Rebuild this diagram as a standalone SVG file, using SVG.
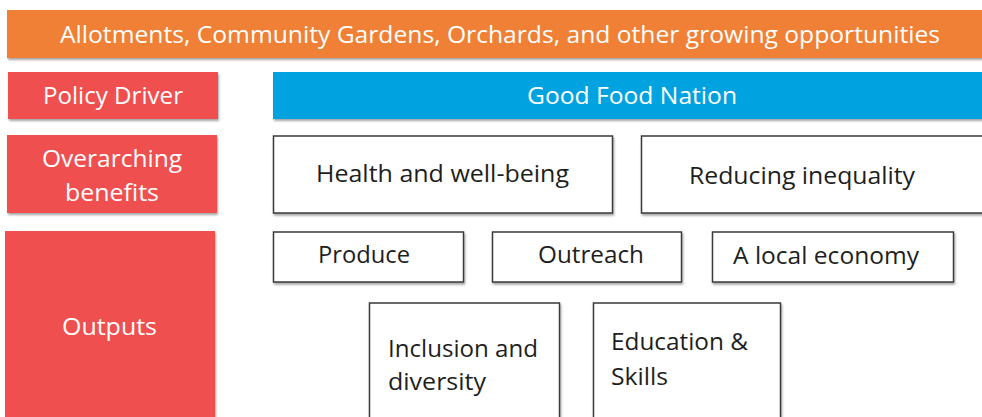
<svg xmlns="http://www.w3.org/2000/svg" width="982" height="417" viewBox="0 0 982 417">
<defs>
<filter id="sh" x="-5%" y="-10%" width="110%" height="130%">
<feDropShadow dx="1" dy="2" stdDeviation="1.2" flood-color="#000" flood-opacity="0.35"/>
</filter>
</defs>
<style>
text{font-family:"Open Sans","Liberation Sans",sans-serif;font-size:23px}
.w{fill:#ffffff}
.d{fill:#1e1e1e}
.or{fill:#F08034}
.rd{fill:#EF4F4F}
.bl{fill:#00A3E0}
.bx{fill:#ffffff;stroke:#3a3a3a;stroke-width:1.5}
</style>
<rect width="982" height="417" fill="#ffffff"/>
<g id="title"><rect class="or" x="7" y="10" width="985" height="48" filter="url(#sh)"/>
<text class="w" x="60" y="43" textLength="880" lengthAdjust="spacingAndGlyphs">Allotments, Community Gardens, Orchards, and other growing opportunities</text></g>
<g id="policy-driver"><rect class="rd" x="8" y="72" width="210" height="47" filter="url(#sh)"/>
<text class="w" x="43" y="104" textLength="140" lengthAdjust="spacingAndGlyphs">Policy Driver</text></g>
<g id="good-food-nation"><rect class="bl" x="273" y="72" width="720" height="47" filter="url(#sh)"/>
<text class="w" x="527" y="104" textLength="210" lengthAdjust="spacingAndGlyphs">Good Food Nation</text></g>
<g id="overarching"><rect class="rd" x="7" y="135" width="210" height="78" filter="url(#sh)"/>
<text class="w" x="42" y="167" textLength="140" lengthAdjust="spacingAndGlyphs">Overarching</text>
<text class="w" x="65" y="201" textLength="94" lengthAdjust="spacingAndGlyphs">benefits</text></g>
<g id="outputs"><rect class="rd" x="5" y="231" width="210" height="200" filter="url(#sh)"/>
<text class="w" x="62" y="335" textLength="95" lengthAdjust="spacingAndGlyphs">Outputs</text></g>
<g id="health"><rect class="bx" x="273.5" y="136" width="339" height="77" filter="url(#sh)"/>
<text class="d" x="316" y="182" textLength="253" lengthAdjust="spacingAndGlyphs">Health and well-being</text></g>
<g id="inequality"><rect class="bx" x="641.5" y="136" width="360" height="77" filter="url(#sh)"/>
<text class="d" x="689" y="184" textLength="226" lengthAdjust="spacingAndGlyphs">Reducing inequality</text></g>
<g id="produce"><rect class="bx" x="273.5" y="232" width="190" height="50" filter="url(#sh)"/>
<text class="d" x="318" y="263" textLength="92" lengthAdjust="spacingAndGlyphs">Produce</text></g>
<g id="outreach"><rect class="bx" x="492.5" y="232" width="189" height="50" filter="url(#sh)"/>
<text class="d" x="538" y="263" textLength="106" lengthAdjust="spacingAndGlyphs">Outreach</text></g>
<g id="local-economy"><rect class="bx" x="712.5" y="232" width="241" height="50" filter="url(#sh)"/>
<text class="d" x="733" y="264" textLength="186" lengthAdjust="spacingAndGlyphs">A local economy</text></g>
<g id="inclusion"><rect class="bx" x="369.5" y="303" width="190" height="130" filter="url(#sh)"/>
<text class="d" x="388" y="357" textLength="150" lengthAdjust="spacingAndGlyphs">Inclusion and</text>
<text class="d" x="388" y="390" textLength="98" lengthAdjust="spacingAndGlyphs">diversity</text></g>
<g id="education"><rect class="bx" x="593.5" y="303" width="187" height="130" filter="url(#sh)"/>
<text class="d" x="611" y="350" textLength="137" lengthAdjust="spacingAndGlyphs">Education &amp;</text>
<text class="d" x="611" y="385" textLength="57" lengthAdjust="spacingAndGlyphs">Skills</text></g>
<g id="connectors"></g>
</svg>
